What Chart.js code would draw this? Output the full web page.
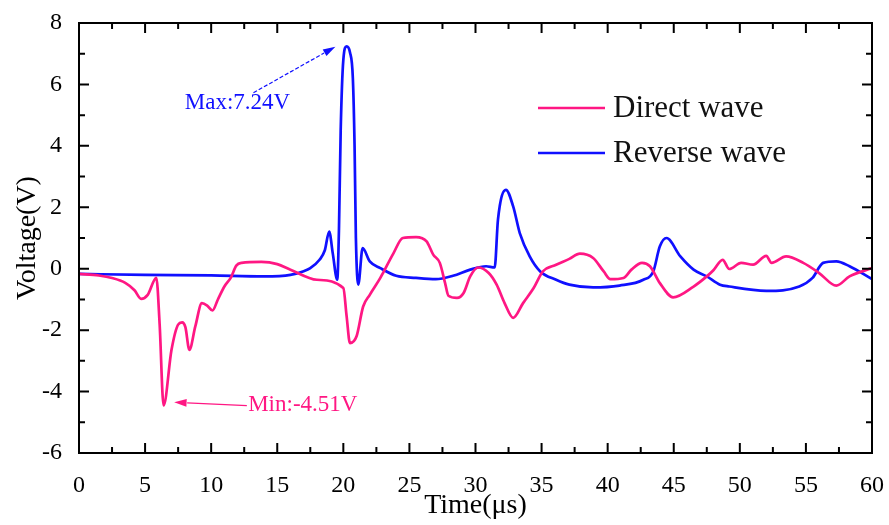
<!DOCTYPE html>
<html>
<head>
<meta charset="utf-8">
<script src="https://cdn.jsdelivr.net/npm/chart.js@4.4.0/dist/chart.umd.min.js"></script>
<style>
  html, body { margin: 0; padding: 0; background: #fff; }
</style>
</head>
<body>
<canvas id="wave-chart" width="889" height="525"></canvas>
<script>
// Direct wave: time (us) / voltage (V)
const directTime = [0, 1.5, 2.5, 3.5, 4.2, 4.7, 5.2, 5.85, 6.1, 6.4, 7.0, 7.5, 7.8, 8.05, 8.35, 8.8, 9.3, 9.7, 10.1, 10.5,
  11.0, 11.5, 11.9, 12.3, 13.8, 15.0, 16.0, 18.0, 20.0, 20.25, 20.5, 21.0, 21.5, 22.0, 22.8, 23.0, 23.8, 24.5, 25.5, 26.3,
  26.8, 27.3, 27.7, 27.95, 28.6, 29.1, 29.6, 30.2, 31.0, 31.6, 32.2, 32.85, 33.6, 34.4, 35.1, 36.1, 37.1, 37.9, 38.9, 39.7,
  40.2, 41.2, 41.8, 42.6, 43.2, 43.95, 44.95, 46.5, 47.5, 48.0, 48.7, 49.2, 50.1, 51.0, 52.0, 52.4, 53.5, 54.8, 56.0, 57.3,
  58.3, 60];
const directVolt = [-0.17, -0.22, -0.3, -0.46, -0.7, -0.98, -0.85, -0.3, -1.8, -4.45, -2.64, -1.82, -1.75, -1.9, -2.64, -1.88, -1.12, -1.2, -1.36, -1.01,
  -0.58, -0.28, 0.1, 0.19, 0.22, 0.15, -0.03, -0.36, -0.63, -1.55, -2.42, -2.2, -1.23, -0.85, -0.3, -0.14, 0.51, 1.0, 1.03, 0.89,
  0.46, 0.19, -0.47, -0.88, -0.95, -0.79, -0.25, 0.04, -0.14, -0.52, -1.12, -1.6, -1.12, -0.63, -0.09, 0.13, 0.32, 0.49, 0.35, -0.09,
  -0.34, -0.3, -0.03, 0.19, 0.08, -0.47, -0.93, -0.58, -0.25, -0.05, 0.29, -0.01, 0.19, 0.13, 0.42, 0.19, 0.4, 0.19, -0.14, -0.55,
  -0.25, 0.02];

// Reverse wave: time (us) / voltage (V)
const reverseTime = [0, 5, 10, 14, 16.0, 17.0, 17.5, 18.2, 18.6, 18.93, 19.2, 19.54, 19.67, 19.8, 20.0, 20.25, 20.5, 20.72, 20.85, 20.95,
  21.13, 21.46, 22.0, 22.8, 24.0, 25.5, 27.0, 28.3, 29.6, 30.8, 31.45, 31.7, 32.3, 32.85, 33.35, 34.1, 34.9, 36.1, 37.1, 38.9,
  40.9, 42.7, 43.45, 43.95, 44.45, 45.5, 46.5, 47.5, 48.5, 49.2, 52.0, 54.5, 55.5, 56.3, 57.3, 58.3, 60];
const reverseVolt = [-0.17, -0.2, -0.22, -0.25, -0.2, -0.08, 0.02, 0.29, 0.6, 1.21, 0.5, -0.36, 1.3, 4.5, 6.8, 7.24, 7.05, 6.2, 4.0, 1.0,
  -0.52, 0.67, 0.24, 0.02, -0.23, -0.3, -0.34, -0.23, -0.03, 0.08, 0.04, 1.6, 2.57, 2.03, 1.16, 0.4, -0.09, -0.36, -0.52, -0.61,
  -0.55, -0.36, -0.09, 0.73, 1.0, 0.4, -0.03, -0.25, -0.52, -0.58, -0.72, -0.58, -0.3, 0.19, 0.24, 0.08, -0.34];

// 축 눈금
const xTickValues = [0, 5, 10, 15, 20, 25, 30, 35, 40, 45, 50, 55, 60];
const yTickValues = [-6, -4, -2, 0, 2, 4, 6, 8];

const seriesNames = ['Direct wave', 'Reverse wave'];
const seriesColors = ['#ff1783', '#1010ff'];

// 주석 (데이터 좌표)
const maxNote = { text: 'Max:7.24V', x: 8.0, y: 5.4, from: [13.2, 5.73], to: [19.4, 7.23] };
const minNote = { text: 'Min:-4.51V', x: 12.8, y: -4.43, from: [12.7, -4.46], to: [7.2, -4.35] };

const SERIF = "'Liberation Serif', 'Times New Roman', serif";

function toPoints(xs, ys) {
    return xs.map((x, i) => ({ x: x, y: ys[i] }));
}

// 테두리 + 안쪽 눈금
const frameTicks = {
    id: 'frameTicks',
    afterDatasetsDraw(chart) {
        const { ctx, chartArea: a, scales: { x, y } } = chart;
        ctx.save();
        ctx.strokeStyle = '#000';
        ctx.lineWidth = 2;
        ctx.strokeRect(a.left, a.top, a.right - a.left, a.bottom - a.top);
        ctx.beginPath();
        xTickValues.forEach((v, i) => {
            const px = x.getPixelForValue(v);
            ctx.moveTo(px, a.bottom); ctx.lineTo(px, a.bottom - 10);
            ctx.moveTo(px, a.top); ctx.lineTo(px, a.top + 10);
            if (i < xTickValues.length - 1) {
                const mx = x.getPixelForValue((v + xTickValues[i + 1]) / 2);
                ctx.moveTo(mx, a.bottom); ctx.lineTo(mx, a.bottom - 6);
                ctx.moveTo(mx, a.top); ctx.lineTo(mx, a.top + 6);
            }
        });
        yTickValues.forEach((v, i) => {
            const py = y.getPixelForValue(v);
            ctx.moveTo(a.left, py); ctx.lineTo(a.left + 10, py);
            ctx.moveTo(a.right, py); ctx.lineTo(a.right - 10, py);
            if (i < yTickValues.length - 1) {
                const my = y.getPixelForValue((v + yTickValues[i + 1]) / 2);
                ctx.moveTo(a.left, my); ctx.lineTo(a.left + 6, my);
                ctx.moveTo(a.right, my); ctx.lineTo(a.right - 6, my);
            }
        });
        ctx.stroke();
        ctx.restore();
    }
};

// 화살표 주석
function drawArrow(ctx, x0, y0, x1, y1, color, dashed) {
    const ang = Math.atan2(y1 - y0, x1 - x0);
    const head = 13;
    ctx.save();
    ctx.strokeStyle = color;
    ctx.fillStyle = color;
    ctx.lineWidth = 1.2;
    if (dashed) ctx.setLineDash([4, 2]);
    ctx.beginPath();
    ctx.moveTo(x0, y0);
    ctx.lineTo(x1 - head * Math.cos(ang), y1 - head * Math.sin(ang));
    ctx.stroke();
    ctx.setLineDash([]);
    ctx.beginPath();
    ctx.moveTo(x1, y1);
    ctx.lineTo(x1 - head * Math.cos(ang - 0.3), y1 - head * Math.sin(ang - 0.3));
    ctx.lineTo(x1 - head * Math.cos(ang + 0.3), y1 - head * Math.sin(ang + 0.3));
    ctx.closePath();
    ctx.fill();
    ctx.restore();
}

const notes = {
    id: 'notes',
    afterDatasetsDraw(chart) {
        const { ctx, scales: { x, y } } = chart;
        [[maxNote, seriesColors[1], true], [minNote, seriesColors[0], false]].forEach(([n, color, dashed]) => {
            drawArrow(ctx, x.getPixelForValue(n.from[0]), y.getPixelForValue(n.from[1]),
                x.getPixelForValue(n.to[0]), y.getPixelForValue(n.to[1]), color, dashed);
            ctx.save();
            ctx.fillStyle = color;
            ctx.font = '23px ' + SERIF;
            ctx.textBaseline = 'middle';
            ctx.fillText(n.text, x.getPixelForValue(n.x), y.getPixelForValue(n.y));
            ctx.restore();
        });
    }
};

// 차트 안쪽 범례
const innerLegend = {
    id: 'innerLegend',
    afterDatasetsDraw(chart) {
        const { ctx, chartArea: a } = chart;
        ctx.save();
        ctx.font = '31px ' + SERIF;
        ctx.textBaseline = 'middle';
        chart.data.datasets.forEach((ds, i) => {
            const ly = a.top + 85 + i * 45;
            const lx = a.right - 334;
            ctx.strokeStyle = ds.borderColor;
            ctx.lineWidth = 2.5;
            ctx.beginPath();
            ctx.moveTo(lx, ly);
            ctx.lineTo(lx + 67, ly);
            ctx.stroke();
            ctx.fillStyle = '#111';
            ctx.fillText(ds.label, lx + 75, ly + 1);
        });
        ctx.restore();
    }
};

const ctx = document.getElementById('wave-chart').getContext('2d');
const waveChart = new Chart(ctx, {
    type: 'line',
    data: {
        datasets: [{
            label: seriesNames[0],
            data: toPoints(directTime, directVolt),
            borderColor: seriesColors[0],
            borderWidth: 2.7,
            pointRadius: 0,
            cubicInterpolationMode: 'monotone',
            fill: false
        }, {
            label: seriesNames[1],
            data: toPoints(reverseTime, reverseVolt),
            borderColor: seriesColors[1],
            borderWidth: 2.7,
            pointRadius: 0,
            cubicInterpolationMode: 'monotone',
            fill: false
        }]
    },
    options: {
        responsive: false,
        animation: false,
        layout: { padding: { top: 23, right: 17, left: 0, bottom: 0 } },
        plugins: {
            legend: { display: false },
            tooltip: { enabled: false }
        },
        scales: {
            x: {
                type: 'linear',
                min: 0,
                max: 60,
                afterBuildTicks: s => { s.ticks = xTickValues.map(v => ({ value: v })); },
                afterFit: s => { s.height = 72; s.paddingLeft = 0; s.paddingRight = 0; },
                grid: { display: false },
                border: { display: false },
                ticks: { color: '#000', padding: 10, maxRotation: 0, font: { family: SERIF, size: 24 } },
                title: {
                    display: true,
                    text: 'Time(μs)',
                    color: '#000',
                    padding: { bottom: 3 },
                    font: { family: SERIF, size: 28 }
                }
            },
            y: {
                min: -6,
                max: 8,
                afterBuildTicks: s => { s.ticks = yTickValues.map(v => ({ value: v })); },
                afterFit: s => { s.width = 79; s.paddingTop = 0; s.paddingBottom = 0; },
                grid: { display: false },
                border: { display: false },
                ticks: { color: '#000', padding: 9, font: { family: SERIF, size: 24 } },
                title: {
                    display: true,
                    text: 'Voltage(V)',
                    color: '#000',
                    padding: { top: 11 },
                    font: { family: SERIF, size: 28 }
                }
            }
        }
    },
    plugins: [frameTicks, notes, innerLegend]
});
</script>
</body>
</html>
